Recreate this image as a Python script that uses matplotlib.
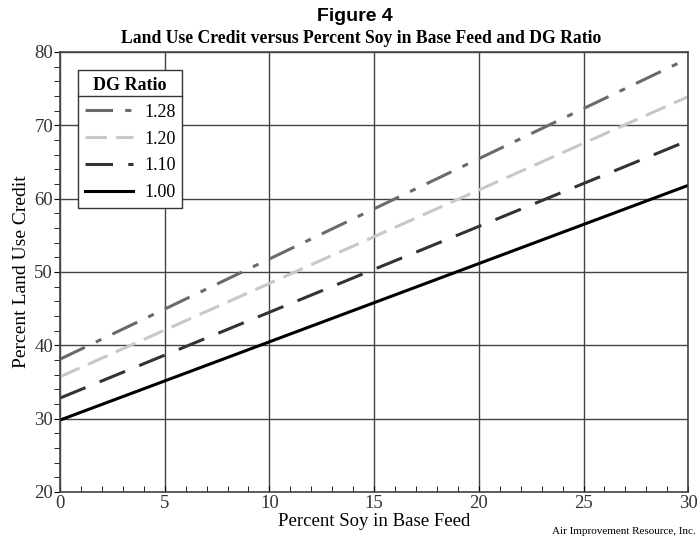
import matplotlib.pyplot as plt
from matplotlib.lines import Line2D
from matplotlib.ticker import MultipleLocator

# Endpoints (straight lines)
soy_pct = [0, 30]
credit_128 = [38.1, 79.1]
credit_120 = [35.7, 73.9]
credit_110 = [32.8, 67.9]
credit_100 = [29.8, 61.8]
ratio_labels = ["1.28", "1.20", "1.10", "1.00"]

serif = "Liberation Serif"

fig = plt.figure(figsize=(6.98, 5.4), dpi=100)
ax = fig.add_axes([0.086, 0.089, 0.9, 0.815])

ax.plot(soy_pct, credit_128, color="#6a6a6a", lw=2.2, dashes=(9, 4, 2, 4), label=ratio_labels[0])
ax.plot(soy_pct, credit_120, color="#c8c8c8", lw=2.2, dashes=(7, 3), label=ratio_labels[1])
ax.plot(soy_pct, credit_110, color="#333333", lw=2.2, dashes=(9, 5), label=ratio_labels[2])
ax.plot(soy_pct, credit_100, color="black", lw=2.2, label=ratio_labels[3])

ax.set_xlim(0, 30)
ax.set_ylim(20, 80)
ax.xaxis.set_major_locator(MultipleLocator(5))
ax.xaxis.set_minor_locator(MultipleLocator(1))
ax.yaxis.set_major_locator(MultipleLocator(10))
ax.yaxis.set_minor_locator(MultipleLocator(2))
ax.grid(True, which="major", color="#444444", lw=1.0)
ax.tick_params(axis="x", which="both", direction="in", length=4, labelsize=13.5, pad=2)
ax.tick_params(axis="y", which="both", direction="out", length=4, labelsize=13.5, pad=1)
for lab in ax.get_xticklabels() + ax.get_yticklabels():
    lab.set_fontfamily(serif)
    lab.set_color("#333333")
for s in ax.spines.values():
    s.set_color("#444444")
    s.set_linewidth(1.2)

ax.set_xlabel("Percent Soy in Base Feed", fontsize=13.5, family=serif, labelpad=1)
ax.set_ylabel("Percent Land Use Credit", fontsize=14, family=serif, labelpad=3)

fig.text(0.509, 0.962, "Figure 4", ha="center", fontsize=14, fontweight="bold", family="Liberation Sans")
fig.text(0.517, 0.92, "Land Use Credit versus Percent Soy in Base Feed and DG Ratio",
         ha="center", fontsize=12.7, fontweight="bold", family=serif)
fig.text(0.997, 0.012, "Air Improvement Resource, Inc.", ha="right", fontsize=8, family=serif)

leg = ax.legend(title="DG Ratio", loc="upper left", bbox_to_anchor=(0.029, 0.958),
                borderaxespad=0, prop={"family": serif, "size": 13}, fancybox=False,
                edgecolor="#333333", handlelength=2.7, handletextpad=0.6,
                labelspacing=0.55, borderpad=0.35, framealpha=1)
leg.get_title().set_fontfamily(serif)
leg.get_title().set_fontweight("bold")
leg.get_title().set_fontsize(13)
leg.get_frame().set_linewidth(1.0)

# separator line under legend title
fig.canvas.draw()
bb = leg.get_window_extent().transformed(fig.transFigure.inverted())
tb = leg.get_title().get_window_extent().transformed(fig.transFigure.inverted())
ysep = tb.y0 - 0.004
fig.add_artist(Line2D([bb.x0, bb.x1], [ysep, ysep], color="#333333", lw=1.0,
                      transform=fig.transFigure, zorder=10))

fig.savefig("out.png", dpi=100)
